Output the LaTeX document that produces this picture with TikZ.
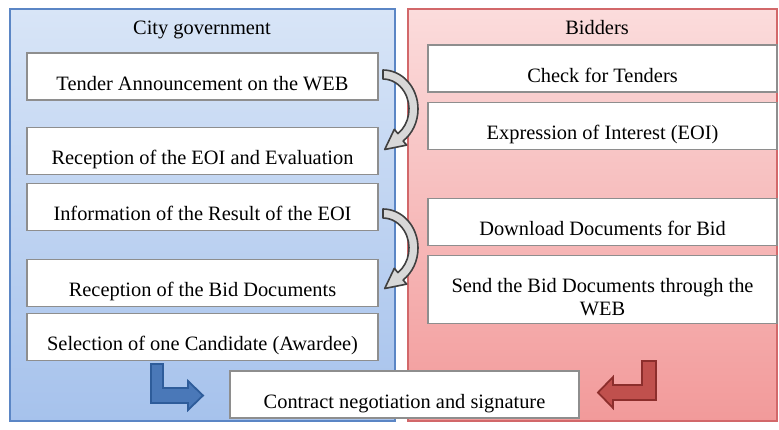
\documentclass[tikz,border=0pt]{standalone}
\usepackage{fontspec}
\setmainfont{LiberationSerif}[Extension=.ttf, UprightFont=*-Regular, BoldFont=*-Bold]
\usetikzlibrary{positioning}

\definecolor{govline}{HTML}{5B86C5}
\definecolor{govtop}{HTML}{D8E5F7}
\definecolor{govbot}{HTML}{A6C2EC}
\definecolor{bidline}{HTML}{D2686A}
\definecolor{bidtop}{HTML}{FBDCDC}
\definecolor{bidbot}{HTML}{F29A9A}
\definecolor{boxline}{HTML}{8E8E8E}
\definecolor{govarrow}{HTML}{4A78B8}
\definecolor{govarrowline}{HTML}{2E5C9A}
\definecolor{bidarrow}{HTML}{C0504D}
\definecolor{bidarrowline}{HTML}{8C2E2C}
\definecolor{turnfill}{HTML}{D8D8D8}
\definecolor{turnline}{HTML}{404040}

\begin{document}
\begin{tikzpicture}[x=0.5pt, y=-0.5pt, font=\fontsize{10.2}{11.5}\selectfont,
  box/.style={draw=boxline, fill=white, line width=0.6pt, minimum height=23.5pt, inner ysep=2pt, text height=16.5pt, text depth=3pt},
  lbox/.style={box, minimum width=175.5pt},
  rbox/.style={box, minimum width=174.5pt},
  bent/.style={line width=0.9pt, line join=miter},
  turn/.style={draw=turnline, fill=turnfill, line width=0.8pt, line join=round}]

	\useasboundingbox (0,0) rectangle (779,429);

	% the two lanes
	\path[draw=govline, line width=0.8pt, top color=govtop, bottom color=govbot] (10,9) rectangle (395,421);
	\path[draw=bidline, line width=0.8pt, top color=bidtop, bottom color=bidbot] (408,9) rectangle (777,421);

	\node (gov_title) at (202,30) {City government};
	\node (bid_title) at (597,28) {Bidders};

	% city government
	\node[lbox] (tender) at (202.5,76.5) {Tender Announcement on the WEB};
	\node[lbox, below=13pt of tender] (evaleoi) {Reception of the EOI and Evaluation};
	\node[lbox, below=4pt of evaleoi] (infoeoi) {Information of the Result of the EOI};
	\node[lbox, below=14pt of infoeoi] (recbid) {Reception of the Bid Documents};
	\node[lbox, below=3pt of recbid] (select) {Selection of one Candidate (Awardee)};

	% bidders
	\node[rbox] (check) at (602.5,68.5) {Check for Tenders};
	\node[rbox, below=4.5pt of check] (eoi) {Expression of Interest (EOI)};
	\node[rbox, below=24pt of eoi] (download) {Download Documents for Bid};
	\node[rbox, below=4.5pt of download, minimum height=34pt, text height=28pt, text depth=2pt, align=center] (send) {Send the Bid Documents through the\\WEB};

	\node[rbox] (contract) at (404.5,394.5) {Contract negotiation and signature};

	% curved arrows between the lanes
	\foreach \dy in {0,139} {
		\begin{scope}[shift={(0,\dy)}]
			\path[turn] (383,70) arc[start angle=-90, end angle=55, x radius=35, y radius=39]
				-- (406.7,145.1) -- (384.7,149.5) -- (394.3,129.3) -- (397.9,133.6)
				arc[start angle=55, end angle=-90, x radius=26, y radius=30] -- cycle;
		\end{scope}
	}

	% bent arrows to the contract
	\path[bent, draw=govarrowline, fill=govarrow] (151,364) -- (163,364) -- (163,388) -- (188,388) -- (188,381)
		-- (203,395.5) -- (188,410) -- (188,403) -- (151,403) -- cycle;
	\path[bent, draw=bidarrowline, fill=bidarrow] (656,361) -- (642,361) -- (642,385) -- (613,385) -- (613,377)
		-- (598,392.5) -- (613,408) -- (613,400) -- (656,400) -- cycle;
\end{tikzpicture}
\end{document}
